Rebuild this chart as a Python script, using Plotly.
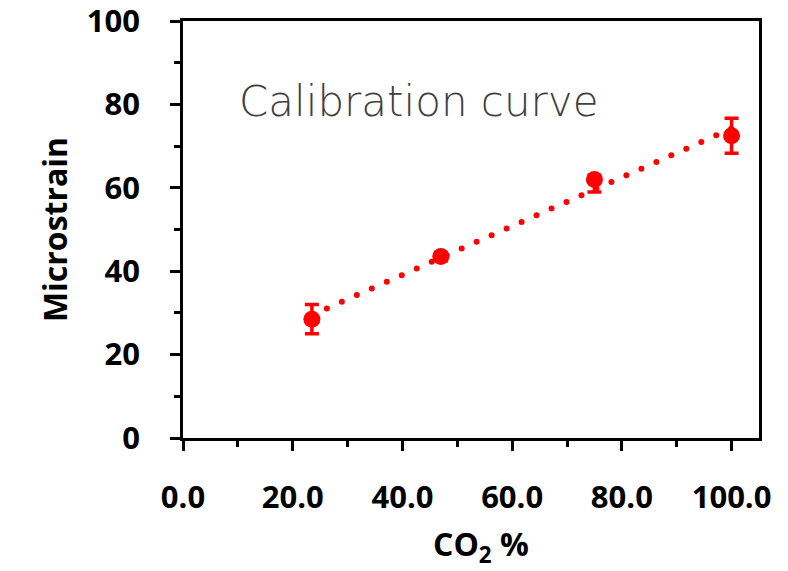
import numpy as np
import plotly.graph_objects as go

# Calibration measurements: CO2 concentration vs. measured microstrain
co2_pct = [23.5, 47.0, 75.0, 100.0]
microstrain = [28.5, 43.5, 62.0, 72.5]
err_plus = [3.5, 1.0, 1.0, 4.2]
err_minus = [3.5, 1.0, 3.0, 4.2]

x_ticks = [0, 20, 40, 60, 80, 100]
y_ticks = [0, 20, 40, 60, 80, 100]

RED = "#FF0000"
TICK_FONT = dict(family="Open Sans", size=31, color="black", weight="bold")
TITLE_FONT = dict(family="Open Sans", size=32, color="black", weight="bold")

# Linear trendline through the measurements, drawn as round dots
slope, intercept = np.polyfit(co2_pct, microstrain, 1)
trend_x = np.arange(co2_pct[0], co2_pct[-1] + 0.01, 2.73)
trend_y = slope * trend_x + intercept

fig = go.Figure()
fig.add_trace(go.Scatter(
    x=trend_x, y=trend_y, mode="markers",
    marker=dict(color=RED, size=6, line=dict(width=0)),
    hoverinfo="skip", showlegend=False,
))
fig.add_trace(go.Scatter(
    x=co2_pct, y=microstrain, mode="markers",
    marker=dict(color=RED, size=17, line=dict(width=0)),
    error_y=dict(type="data", array=err_plus, arrayminus=err_minus,
                 color=RED, thickness=3.5, width=7),
    showlegend=False,
))

fig.add_annotation(
    x=9.9, y=80.8, xref="x", yref="y", text="Calibration curve",
    showarrow=False, xanchor="left", yanchor="middle",
    font=dict(family="DejaVu Sans", size=42, color="#404040", weight=200),
)
fig.add_annotation(
    x=0.517, y=-0.26, xref="paper", yref="paper", text="CO<sub>2</sub> %",
    showarrow=False, xanchor="center", yanchor="middle", font=TITLE_FONT,
)

axis_common = dict(
    showline=True, linecolor="black", linewidth=2.5, mirror=True,
    ticks="outside", ticklen=10, tickwidth=2.5, tickcolor="black",
    showgrid=False, zeroline=False, tickfont=TICK_FONT, automargin=False,
    ticklabeloverflow="allow",
)

fig.update_xaxes(
    range=[0, 105], tickvals=x_ticks, tickformat=".1f",
    minor=dict(dtick=10, tick0=0, ticks="outside", ticklen=6, tickwidth=2.5,
               tickcolor="black", showgrid=False),
    ticklabelstandoff=20,
    **axis_common,
)
fig.update_yaxes(
    range=[0, 100], tickvals=y_ticks,
    minor=dict(dtick=10, tick0=0, ticks="outside", ticklen=6, tickwidth=2.5,
               tickcolor="black", showgrid=False),
    ticklabelstandoff=24,
    title=dict(text="Microstrain", standoff=10, font=TITLE_FONT),
    **axis_common,
)

fig.update_layout(
    width=788, height=571,
    margin=dict(l=183, r=29, t=21, b=133),
    paper_bgcolor="white", plot_bgcolor="white",
)

fig.write_html("out.html")
